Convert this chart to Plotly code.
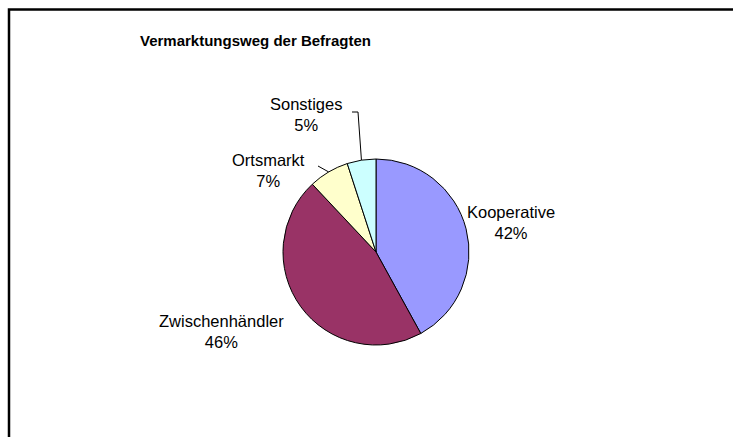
import math
import plotly.graph_objects as go

W, H = 733, 437

# data
categories = ["Kooperative", "Zwischenhändler", "Ortsmarkt", "Sonstiges"]
shares = [42, 46, 7, 5]
colors = ["#9999FF", "#993366", "#FFFFCC", "#CCFFFF"]
title_text = "Vermarktungsweg der Befragten"

# pie geometry in pixels
cx, cy, r = 376, 252, 93


def px(x):
    return x / W


def py(y):
    return 1 - y / H


fig = go.Figure()
fig.add_trace(go.Pie(
    labels=categories,
    values=shares,
    sort=False,
    direction="clockwise",
    rotation=0,
    marker=dict(colors=colors, line=dict(color="black", width=1)),
    textinfo="none",
    hoverinfo="label+percent",
    domain=dict(x=[px(cx - r), px(cx + r)], y=[py(cy + r), py(cy - r)]),
    showlegend=False,
))

# label positions (pixel centres of the label blocks)
label_pos = {
    "Kooperative": (511, 222),
    "Zwischenhändler": (221, 331),
    "Ortsmarkt": (268, 170),
    "Sonstiges": (306, 114),
}
total = sum(shares)
for cat, v in zip(categories, shares):
    lx, ly = label_pos[cat]
    fig.add_annotation(
        x=px(lx), y=py(ly), xref="paper", yref="paper",
        xanchor="center", yanchor="middle",
        text=f"{cat}<br>{round(v / total * 100)}%",
        showarrow=False, align="center",
        font=dict(family="Liberation Sans, Arial", size=16.5, color="black"),
    )

# leader lines for the small slices, ending at the slice mid-angle on the rim
cum = 0
mid = {}
for cat, v in zip(categories, shares):
    a = (cum + v / 2) / total * 2 * math.pi
    mid[cat] = (cx + r * math.sin(a), cy - r * math.cos(a))
    cum += v

leaders = {
    "Ortsmarkt": [(318, 166)],
    "Sonstiges": [(352, 112), (358, 112)],
}
for cat, pts in leaders.items():
    pts = pts + [mid[cat]]
    path = "M " + " L ".join(f"{px(x)},{py(y)}" for x, y in pts)
    fig.add_shape(type="path", path=path, xref="paper", yref="paper",
                  line=dict(color="black", width=1))

# chart border (cut off on the right and bottom)
fig.add_shape(type="rect", xref="paper", yref="paper",
              x0=px(9), y0=-0.5, x1=2.0, y1=py(9.5),
              line=dict(color="black", width=2.5))

fig.add_annotation(
    x=px(255), y=py(40), xref="paper", yref="paper",
    xanchor="center", yanchor="middle",
    text=f"<b>{title_text}</b>", showarrow=False,
    font=dict(family="Liberation Sans, Arial", size=15, color="black"),
)

fig.update_layout(
    width=W, height=H,
    margin=dict(l=0, r=0, t=0, b=0),
    paper_bgcolor="white",
    plot_bgcolor="white",
)

fig.write_html("out.html", config={"displayModeBar": False},
               post_script="document.body.style.margin='0';")
